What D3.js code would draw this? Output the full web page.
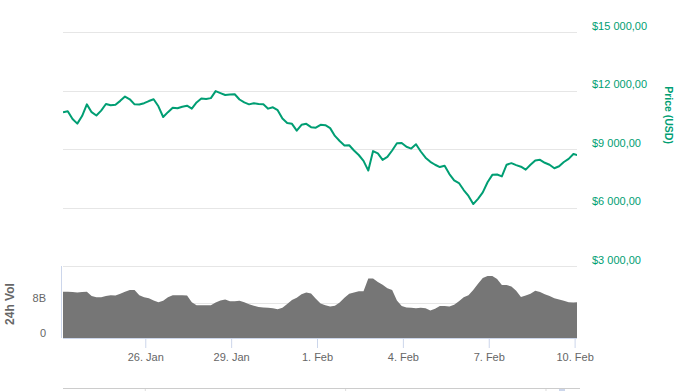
<!DOCTYPE html>
<html>
<head>
<meta charset="utf-8">
<script src="https://cdn.jsdelivr.net/npm/d3@7"></script>
<style>
  html, body { margin: 0; padding: 0; background: #fff; }
  svg { display: block; font-family: "Liberation Sans", Arial, sans-serif; }
</style>
</head>
<body>
<svg id="chart" width="681" height="391"></svg>
<script>
// ---- data (4-hour samples starting 23 Jan 03:00 UTC) ----
const startTime = "2018-01-23T03:00:00Z";
const stepHours = 4;
const domainEnd = "2018-02-10T02:00:00Z";

const priceUSD = [
  10895, 10950, 10550, 10310, 10700, 11300, 10900, 10730, 10980, 11320,
  11250, 11280, 11480, 11700, 11560, 11300, 11290, 11360, 11470, 11560,
  11200, 10650, 10900, 11130, 11100, 11180, 11230, 11080, 11400, 11600,
  11580, 11620, 11980, 11880, 11780, 11800, 11820, 11550, 11400, 11300,
  11360, 11320, 11300, 11080, 11150, 11000, 10570, 10340, 10300, 9950,
  10250, 10300, 10130, 10100, 10250, 10230, 10080, 9680, 9420, 9190,
  9200, 8930, 8700, 8400, 7900, 8900, 8780, 8450, 8600, 8930,
  9300, 9320, 9120, 9030, 9250, 8880, 8560, 8350, 8200, 8080,
  8150, 7720, 7400, 7260, 6900, 6600, 6180, 6450, 6780, 7300,
  7680, 7700, 7600, 8200, 8280, 8180, 8100, 7950, 8200, 8420,
  8450, 8300, 8200, 8020, 8120, 8340, 8500, 8750, 8680
];

// 24h volume in billions USD
const volumeB = [
  10.6, 10.6, 10.5, 10.4, 10.5, 10.6, 9.6, 9.3, 9.3, 9.6,
  9.8, 9.7, 10.1, 10.6, 11.0, 11.0, 9.8, 9.3, 9.1, 8.6,
  8.2, 8.5, 9.3, 9.8, 9.8, 9.8, 9.7, 8.2, 7.5, 7.5,
  7.5, 7.5, 8.1, 8.6, 8.8, 8.4, 8.4, 8.5, 8.2, 7.7,
  7.4, 7.1, 7.0, 6.9, 6.8, 6.6, 6.9, 7.8, 8.7, 9.2,
  10.0, 10.4, 10.2, 9.0, 7.9, 7.5, 7.2, 7.4, 8.1, 9.2,
  10.1, 10.4, 10.7, 10.7, 13.6, 13.6, 12.8, 12.2, 11.4, 11.0,
  8.6, 7.3, 7.0, 6.9, 6.8, 6.9, 6.8, 6.3, 6.7, 7.3,
  7.3, 7.2, 7.6, 8.4, 9.3, 9.8, 11.0, 12.4, 13.7, 14.2,
  14.2, 13.5, 12.1, 12.1, 11.8, 10.8, 9.4, 9.7, 10.1, 10.8,
  10.5, 10.0, 9.6, 9.1, 8.8, 8.5, 8.2, 8.1, 8.2
];

const priceTicks = [3000, 6000, 9000, 12000, 15000];
const volTicks = [0, 8];
const volTickLabels = ["0", "8B"];
const dateTicks = ["2018-01-26", "2018-01-29", "2018-02-01", "2018-02-04", "2018-02-07", "2018-02-10"];
const dateTickLabels = ["26. Jan", "29. Jan", "1. Feb", "4. Feb", "7. Feb", "10. Feb"];

// ---- build ----
const t0 = new Date(startTime);
const times = priceUSD.map((_, i) => new Date(t0.getTime() + i * stepHours * 3600e3));
const priceData = priceUSD.map((v, i) => ({ t: times[i], v }));
const volData = volumeB.map((v, i) => ({ t: times[i], v }));

const svg = d3.select("#chart");
const X0 = 63, X1 = 577;
const x = d3.scaleUtc().domain([t0, new Date(domainEnd)]).range([X0, X1]);
const yP = d3.scaleLinear().domain([3000, 15000]).range([266, 32.3]);
const yV = d3.scaleLinear().domain([0, 8]).range([338, 303]);

const green = "#009e73";
const gridC = "#e6e6e6";
const axisC = "#ccd6eb";

svg.append("defs").append("clipPath").attr("id", "plotclip")
  .append("rect").attr("x", X0).attr("y", 0).attr("width", X1 - X0).attr("height", 391);

// price grid lines
svg.append("g").selectAll("line").data(priceTicks).join("line")
  .attr("x1", X0).attr("x2", X1)
  .attr("y1", d => Math.round(yP(d)) + 0.5).attr("y2", d => Math.round(yP(d)) + 0.5)
  .attr("stroke", gridC).attr("stroke-width", 1);

// price labels
svg.append("g").selectAll("text").data(priceTicks).join("text")
  .attr("x", 592).attr("y", d => yP(d) - 6.5)
  .attr("dominant-baseline", "central")
  .attr("fill", green).attr("font-size", 11)
  .text(d => "$" + d3.format(",.2f")(d).replace(/,/g, " ").replace(".", ","));

// price title
svg.append("text")
  .attr("transform", "translate(669,115) rotate(90)")
  .attr("text-anchor", "middle").attr("dominant-baseline", "central")
  .attr("fill", green).attr("font-size", 10.5).attr("font-weight", "bold")
  .text("Price (USD)");

// volume grid lines
svg.append("g").selectAll("line").data([8]).join("line")
  .attr("x1", X0).attr("x2", X1)
  .attr("y1", d => Math.round(yV(d)) + 0.5).attr("y2", d => Math.round(yV(d)) + 0.5)
  .attr("stroke", gridC);

// volume area
const area = d3.area().x(d => x(d.t)).y0(yV(0)).y1(d => yV(d.v)).curve(d3.curveLinear);
svg.append("path").datum(volData)
  .attr("clip-path", "url(#plotclip)")
  .attr("d", area).attr("fill", "#767676");

// volume left axis line
svg.append("line").attr("x1", 61.5).attr("x2", 61.5).attr("y1", 266).attr("y2", 338)
  .attr("stroke", axisC);

// volume labels
svg.append("g").selectAll("text").data(volTicks).join("text")
  .attr("x", 46).attr("y", d => yV(d) - 5.5)
  .attr("text-anchor", "end").attr("dominant-baseline", "central")
  .attr("fill", "#666").attr("font-size", 11)
  .text((d, i) => volTickLabels[i]);

svg.append("text")
  .attr("transform", "translate(10,304) rotate(-90)")
  .attr("text-anchor", "middle").attr("dominant-baseline", "central")
  .attr("fill", "#666").attr("font-size", 12).attr("font-weight", "bold")
  .text("24h Vol");

// x axis
const xAxis = d3.axisBottom(x)
  .tickValues(dateTicks.map(s => new Date(s + "T00:00:00Z")))
  .tickFormat((d, i) => dateTickLabels[i])
  .tickSize(10).tickSizeOuter(0);
const gx = svg.append("g").attr("transform", "translate(0,338)").call(xAxis);
gx.select(".domain").attr("stroke", axisC).attr("d", `M${X0},0.5H${X1}`);
gx.selectAll(".tick line").attr("stroke", axisC);
gx.selectAll(".tick text").attr("fill", "#666").attr("font-size", 11)
  .attr("font-family", "Liberation Sans, Arial, sans-serif").attr("dy", "0.9em");

// price line
const line = d3.line().x(d => x(d.t)).y(d => yP(d.v)).curve(d3.curveLinear);
svg.append("path").datum(priceData)
  .attr("clip-path", "url(#plotclip)")
  .attr("d", line).attr("fill", "none")
  .attr("stroke", green).attr("stroke-width", 2).attr("stroke-linejoin", "round");

// navigator top edge
svg.append("line").attr("x1", X0).attr("x2", 580).attr("y1", 388.5).attr("y2", 388.5)
  .attr("stroke", "#cccccc");
const navTicks = ["2018-01-26", "2018-02-02", "2018-02-09"];
svg.append("g").selectAll("line").data(navTicks).join("line")
  .attr("x1", d => x(new Date(d + "T00:00:00Z"))).attr("x2", d => x(new Date(d + "T00:00:00Z")))
  .attr("y1", 389).attr("y2", 391).attr("stroke", "#dddddd");
svg.append("rect").attr("x", 559).attr("y", 389).attr("width", 6).attr("height", 2)
  .attr("fill", "#ccd6eb");
</script>
</body>
</html>
